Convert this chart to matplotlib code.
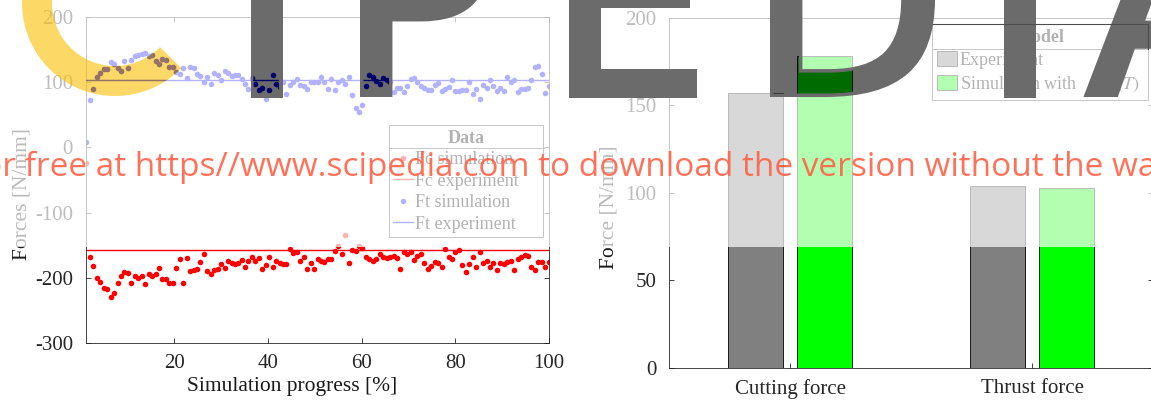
import numpy as np
import matplotlib.pyplot as plt
from matplotlib.patches import Rectangle, PathPatch, Wedge
from matplotlib.textpath import TextPath
from matplotlib.font_manager import FontProperties
from matplotlib.path import Path
from matplotlib.lines import Line2D
from matplotlib.transforms import IdentityTransform

plt.rcParams['font.family'] = ['Liberation Serif', 'DejaVu Serif']
plt.rcParams['mathtext.fontset'] = 'stix'
plt.rcParams['axes.unicode_minus'] = False

W, H = 1151, 400

# simulation progress [%] of each sample
progress = [1.2, 2.0, 2.7, 3.4, 4.2, 4.9, 5.6, 6.4, 7.1, 7.9,
            8.6, 9.3, 10.1, 10.8, 11.5, 12.3, 13.0, 13.7, 14.5, 15.2,
            16.0, 16.7, 17.4, 18.2, 18.9, 19.6, 20.4, 21.1, 21.8, 22.6,
            23.3, 24.1, 24.8, 25.5, 26.3, 27.0, 27.7, 28.5, 29.2, 29.9,
            30.7, 31.4, 32.2, 32.9, 33.6, 34.4, 35.1, 35.8, 36.6, 37.3,
            38.0, 38.8, 39.5, 40.3, 41.0, 41.7, 42.5, 43.2, 43.9, 44.7,
            45.4, 46.1, 46.9, 47.6, 48.4, 49.1, 49.8, 50.6, 51.3, 52.0,
            52.8, 53.5, 54.2, 55.0, 55.7, 56.5, 57.2, 57.9, 58.7, 59.4,
            60.1, 60.9, 61.6, 62.4, 63.1, 63.8, 64.6, 65.3, 66.0, 66.8,
            67.5, 68.2, 69.0, 69.7, 70.5, 71.2, 71.9, 72.7, 73.4, 74.1,
            74.9, 75.6, 76.3, 77.1, 77.8, 78.6, 79.3, 80.0, 80.8, 81.5,
            82.2, 83.0, 83.7, 84.4, 85.2, 85.9, 86.7, 87.4, 88.1, 88.9,
            89.6, 90.3, 91.1, 91.8, 92.6, 93.3, 94.0, 94.8, 95.5, 96.2,
            97.0, 97.7, 98.4, 99.2, 99.9]

fc_sim = [-24,
          -168, -182, -201, -206, -216, -217, -230, -224, -209, -197,
          -192, -193, -209, -198, -201, -197, -210, -194, -197, -194,
          -185, -202, -202, -208, -209, -185, -172, -209, -170, -190,
          -188, -187, -176, -163, -190, -195, -189, -187, -179, -185,
          -174, -177, -179, -178, -173, -184, -174, -169, -175, -170,
          -186, -180, -168, -184, -174, -178, -179, -179, -156, -162,
          -161, -174, -169, -186, -177, -187, -172, -174, -176, -171,
          -171, -159, -151, -164, -134, -177, -157, -159, -151, -154,
          -169, -171, -174, -172, -164, -168, -170, -169, -167, -170,
          -187, -160, -164, -160, -173, -167, -163, -177, -187, -182,
          -176, -177, -183, -156, -168, -171, -160, -157, -180, -191,
          -179, -168, -183, -161, -178, -174, -184, -178, -189, -177,
          -179, -176, -174, -189, -172, -168, -165, -167, -183, -188,
          -176, -176, -184, -176]

ft_sim = [8,
          73, 90, 108, 114, 120, 120, 132, 128, 122, 117,
          133, 122, 135, 140, 142, 144, 145, 140, 142, 133,
          129, 136, 135, 124, 124, 116, 113, 122, 107, 123,
          122, 113, 110, 100, 109, 97, 114, 111, 103, 118,
          114, 110, 112, 112, 105, 97, 90, 106, 97, 88,
          91, 75, 88, 111, 98, 93, 101, 82, 96, 101,
          105, 96, 95, 90, 100, 101, 101, 109, 101, 90,
          105, 88, 101, 104, 98, 108, 81, 61, 55, 66,
          94, 111, 108, 102, 97, 106, 103, 100, 85, 92,
          92, 85, 94, 105, 107, 101, 94, 92, 88, 88,
          96, 99, 87, 90, 93, 103, 87, 87, 88, 89,
          100, 82, 90, 75, 96, 91, 103, 94, 86, 91,
          86, 108, 101, 103, 85, 90, 90, 92, 104, 123,
          125, 113, 84, 94]

fc_exp = -157
ft_exp = 104

categories = ['Cutting force', 'Thrust force']
bar_exp = [157, 104]
bar_sim = [178, 102.5]

fig = plt.figure(figsize=(W / 100, H / 100), dpi=100)
rect1 = [85.5 / W, 1 - 342.7 / H, 463.5 / W, 325.4 / H]
rect2 = [669 / W, 1 - 367.7 / H, 484 / W, 350 / H]
pos = np.arange(1, len(categories) + 1)


def matlab_axes(ax):
    for s in ax.spines.values():
        s.set_color('0.15')
        s.set_linewidth(0.6)
    ax.tick_params(direction='in', top=True, right=True, length=3.6, width=0.6,
                   colors='0.15', labelsize=15)
    ax.tick_params(axis='y', pad=9)
    ax.tick_params(axis='x', pad=8)


# left: force history
ax1 = fig.add_axes(rect1)
ax1.plot(progress, fc_sim, 'o', color='r', ms=4, mew=0, label='Fc simulation')
ax1.axhline(fc_exp, color='r', lw=1, label='Fc experiment')
ax1.plot(progress, ft_sim, 'o', color='b', ms=4, mew=0, label='Ft simulation')
ax1.axhline(ft_exp, color='b', lw=1, label='Ft experiment')
ax1.set_xlim(1, 100)
ax1.set_ylim(-300, 200)
ax1.set_xticks([20, 40, 60, 80, 100])
ax1.set_yticks([-300, -200, -100, 0, 100, 200])
matlab_axes(ax1)
ax1.set_xlabel('Simulation progress [%]', fontsize=15.5, color='0.1')
ax1.xaxis.label.set_va('center')
ax1.xaxis.set_label_coords(0.4455, -0.135)
ax1.set_ylabel('Forces [N/mm]', fontsize=15.5, color='0.1')
ax1.yaxis.label.set_va('center')
ax1.yaxis.set_label_coords(-0.138, 0.457)
leg1 = ax1.legend(title='Data', loc='upper left', mode='expand',
                  bbox_to_anchor=(0.654, 0.0, 0.334, 0.669), borderaxespad=0,
                  fontsize=13, title_fontproperties={'weight': 'bold', 'size': 13},
                  handlelength=1.1, handletextpad=0.1, labelspacing=0.25,
                  borderpad=0.25, fancybox=False, edgecolor='0.15', framealpha=1,
                  numpoints=1)
leg1.get_frame().set_linewidth(0.6)

# right: mean forces
ax2 = fig.add_axes(rect2)
ax2.bar(pos - 0.143, bar_exp, 0.23, color='0.5', edgecolor='k', lw=0.6,
        label='Experiment')
ax2.bar(pos + 0.143, bar_sim, 0.23, color=(0, 1, 0), edgecolor='k', lw=0.6,
        label='Simulation with       $\\mu(T)$')
ax2.set_xlim(0.5, 2.5)
ax2.set_ylim(0, 200)
ax2.set_yticks([0, 50, 100, 150, 200])
ax2.set_xticks(pos, categories)
matlab_axes(ax2)
ax2.set_ylabel('Force [N/mm]', fontsize=15.5, color='0.1')
ax2.yaxis.label.set_va('center')
ax2.yaxis.set_label_coords(-0.124, 0.46)
leg2 = ax2.legend(title='Model', loc='upper left', mode='expand',
                  bbox_to_anchor=(0.5444, 0.0, 0.4453, 0.982), borderaxespad=0,
                  fontsize=13, title_fontproperties={'weight': 'bold', 'size': 13},
                  handlelength=1.1, handleheight=0.9, handletextpad=0.15,
                  labelspacing=0.3, borderpad=0.25, fancybox=False,
                  edgecolor='0.15', framealpha=1)
leg2.get_frame().set_linewidth(0.6)

# legend title separators
px = IdentityTransform()
fig.add_artist(Line2D([389, 543.5], [H - 148.3, H - 148.3], transform=px,
                      color='0.15', lw=0.6, zorder=5))
fig.add_artist(Line2D([933, 1148], [H - 49, H - 49], transform=px,
                      color='0.15', lw=0.6, zorder=5))
fig.add_artist(Line2D([933, 1148, 1148], [H - 24, H - 24, H - 49], transform=px,
                      color='0.3', lw=0.8, zorder=25))

# watermark: white veil over the upper part
fig.add_artist(Rectangle((0, 1 - 246.7 / H), 1, 246.7 / H, transform=fig.transFigure,
                         facecolor='white', edgecolor='none', alpha=0.7, zorder=20))

# yellow "C" ring (pixel coordinates)
ring = Wedge((115, H - 3), 93, 45, 315.5, width=30, transform=px,
             facecolor='#FABE00', edgecolor='none', alpha=0.6, zorder=21)
fig.add_artist(ring)

logo_font = FontProperties(family='DejaVu Sans')
cap = TextPath((0, 0), 'I', size=100, prop=logo_font).get_extents().height
stroke = 7
scale = (195 - stroke) / cap
letter_paths = []


def add_letter(ch, left_px, color):
    tp = TextPath((0, 0), ch, size=100, prop=logo_font)
    ext = tp.get_extents()
    v = (tp.vertices - [ext.x0, 0]) * scale
    v[:, 0] += left_px + stroke / 2
    v[:, 1] += H - 97 + stroke / 2
    path = Path(v, tp.codes)
    letter_paths.append(path)
    fig.add_artist(PathPatch(path, transform=px, facecolor=color, edgecolor=color,
                             lw=stroke * 0.72, zorder=21))


for ch, left in [('I', 250), ('P', 360), ('E', 568), ('D', 770), ('I', 1003), ('A', 1085)]:
    add_letter(ch, left, '#6B6B6B')

letters_clip = PathPatch(Path.make_compound_path(*letter_paths), transform=px)

# marks seen through the dark letters and the yellow ring
ax1b = fig.add_axes(rect1, zorder=30)
ax1b.set_axis_off()
ax1b.set_xlim(1, 100)
ax1b.set_ylim(-300, 200)
l1, = ax1b.plot(progress, ft_sim, 'o', color=(0, 0, 0.42), ms=4, mew=0)
l2 = ax1b.axhline(ft_exp, color=(0, 0, 0.42), lw=1)
l3, = ax1b.plot(progress, ft_sim, 'o', color='#967266', ms=4, mew=0)
l4 = ax1b.axhline(ft_exp, color='#967266', lw=1)
for a in (l1, l2):
    a.set_clip_path(letters_clip)
for a in (l3, l4):
    a.set_clip_path(ring)

ax2b = fig.add_axes(rect2, zorder=30)
ax2b.set_axis_off()
ax2b.set_xlim(0.5, 2.5)
ax2b.set_ylim(0, 200)
b1 = ax2b.bar(pos - 0.143, bar_exp, 0.23, color='0.21', edgecolor='k', lw=0.6)
b2 = ax2b.bar(pos + 0.143, bar_sim, 0.23, color=(0, 0.42, 0), edgecolor='k', lw=0.6)
for b in list(b1) + list(b2):
    b.set_clip_path(letters_clip)

wm_text = 'Download for free at https//www.scipedia.com to download the version without the watermark'
r = fig.canvas.get_renderer()
probe = fig.text(0, 0, 'Download fo', fontsize=24, family='Open Sans')
pre_w = probe.get_window_extent(r).width
probe.remove()
fig.text((2 - pre_w) / W, 1 - 175.7 / H, wm_text, fontsize=24, family='Open Sans',
         color='#FF6347', alpha=0.9, ha='left', va='baseline', zorder=40)

fig.savefig('out.png', dpi=100)
